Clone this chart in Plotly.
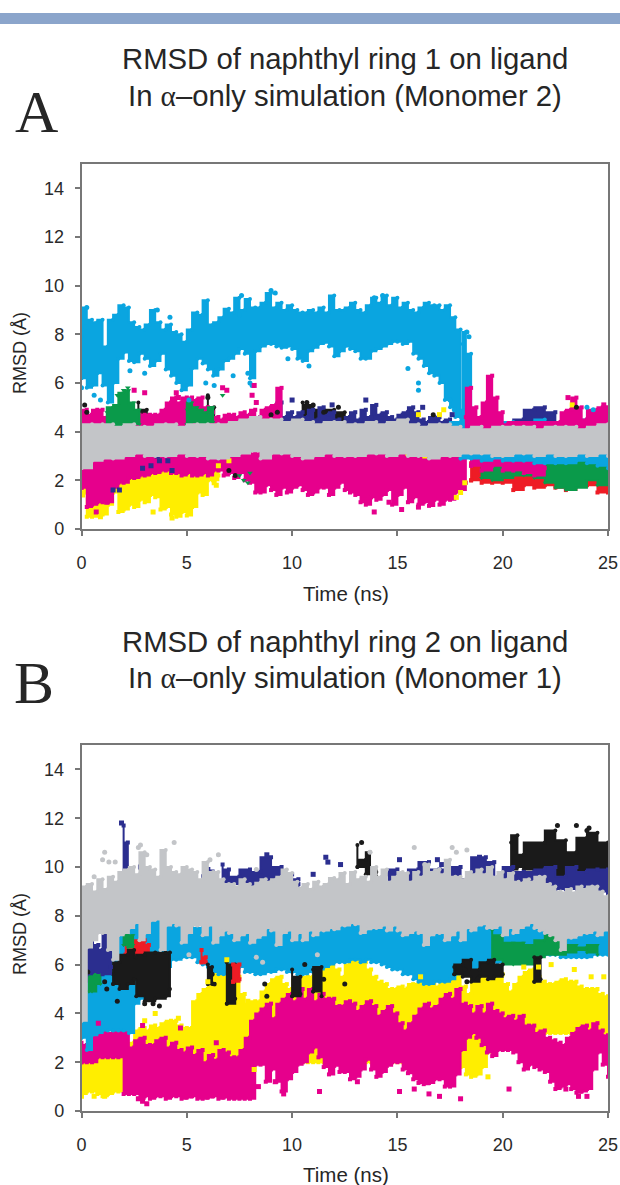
import plotly.graph_objects as go

# ---------- shared ----------
X_TICKS = [0, 5, 10, 15, 20, 25]
Y_TICKS = [0, 2, 4, 6, 8, 10, 12, 14]
CYAN, MAGENTA, GRAY = "#0aa5e0", "#e6008c", "#c3c5c8"
YELLOW, NAVY, BLACK, GREEN, RED = "#ffee00", "#2b2e8f", "#1a1a1a", "#0a9a4a", "#ee1c25"

T5 = [i * 0.5 for i in range(51)]
T25 = [i * 0.25 for i in range(101)]

# ---------- panel A envelopes ----------
A_CYAN_HI = [7.9,9.1,8.6,8.5,8.6,7.5,8.6,8.8,9.2,9.1,8.5,8.3,8.2,8.4,9.0,8.5,8.2,8.4,8.1,8.0,7.7,8.2,8.9,8.8,9.4,8.4,8.5,8.7,9.05,8.9,9.5,9.0,9.45,9.1,9.1,9.3,9.7,9.1,9.3,9.0,9.2,9.0,8.9,8.9,9.0,8.9,9.1,8.9,9.6,9.0,9.0,9.1,9.3,9.0,8.9,9.2,9.5,9.3,9.6,9.2,9.5,9.1,9.3,9.0,8.9,9.1,9.3,9.2,9.2,9.0,9.2,8.7,8.2]
A_CYAN_LO = [6.2,5.8,5.9,6.4,5.9,5.2,6.0,7.0,7.25,6.9,6.85,7.2,7.0,6.7,6.9,7.2,6.55,6.3,6.0,5.7,5.9,6.6,7.0,6.8,6.55,6.3,6.55,6.9,7.0,7.2,7.4,7.2,6.2,7.3,7.5,7.6,7.6,7.5,7.45,7.5,7.4,7.0,6.9,7.3,7.45,7.6,7.65,7.5,7.1,7.3,7.5,7.4,7.3,7.0,7.0,7.3,7.4,7.5,7.6,7.7,7.7,7.6,7.7,7.2,7.0,6.7,6.4,6.3,6.0,5.3,5.0,4.6,4.6]
A_CYAN_COL_T = [18.1,18.25,18.5]
A_CYAN_COL_HI = [7.6,8.1,7.2]
A_CYAN_COL_LO = [4.0,4.0,4.2]
A_GRAY_HI = [4.2,4.3,4.3,4.3,4.2,4.3,4.2,4.2,4.3,4.3,4.2,4.3,4.3,4.3,4.3,4.4,4.5,4.6,4.5,4.5,4.4,4.5,4.4,4.3,4.4,4.4,4.3,4.3,4.4,4.3,4.4,4.5,4.3,4.2,4.3,4.3,4.2,4.1,4.2,4.1,4.2,4.2,4.2,4.2,4.1,4.2,4.2,4.2,4.1,4.2,4.3]
A_GRAY_LO = [2.5,2.8,2.9,2.9,3.0,3.1,3.0,3.0,3.0,3.1,3.0,3.0,2.9,2.9,3.0,3.1,3.2,2.9,3.1,3.1,3.0,2.9,3.0,3.1,3.0,3.0,3.0,3.1,3.1,3.0,3.1,3.0,3.0,2.9,3.0,3.0,3.1,3.1,3.1,3.0,3.0,3.1,3.1,3.0,3.1,3.0,3.0,3.1,3.0,3.1,3.0]

A_MAG_LOW_LO = [1.7,0.9,1.0,1.1,1.1,1.1,1.7,1.9,1.9,2.1,2.1,2.2,2.2,2.3,2.3,2.4,2.4,2.3,2.3,2.2,2.3,2.2,2.2,2.3,2.2,2.4,2.4,2.2,2.3,2.1,2.3,2.0,1.9,1.5,1.5,1.8,1.6,1.4,1.7,1.5,1.7,1.8,1.6,1.4,1.5,1.7,1.7,1.4,1.7,1.9,1.6,1.5,1.4,1.1,1.0,1.3,1.2,1.4,1.6,1.0,1.4,1.7,1.1,1.3,1.0,1.1,0.95,1.2,1.0,1.2,1.2,1.5,1.6,1.9]
A_MAG_LOW_HI = [3.1] * len(A_MAG_LOW_LO)
A_MAG_UP_HI = [4.6,4.9,4.7,4.9,4.9,4.6,4.8,4.9,4.7,4.9,4.8,4.7,4.7,4.7,4.7,4.7,4.9,5.2,5.4,5.2,5.4,5.4,5.3,5.4,5.0,4.8,4.6,4.5,4.7,4.7,4.6,4.8,4.7,4.9,4.6,4.9,5.0,5.1,5.8]
A_MAG_UP_LO = [3.9] * len(A_MAG_UP_HI)
A_MAG_R_T = [18.25,18.5,18.75,19,19.25,19.5,19.75,20,20.25,22.75,23,23.25,23.5,23.75,24,24.5,24.75,25]
A_MAG_R_HI = [4.6,5.8,5.0,4.6,5.2,6.3,5.4,4.8,4.3,4.4,4.8,4.9,5.4,5.0,4.5,4.9,5.0,5.0]
A_MAG_R_LO = [4.0,4.0,4.0,4.0,4.0,4.0,4.0,4.0,4.0,4.0,4.0,4.0,4.0,4.0,4.0,4.1,4.1,4.1]
A_YELLOW_T = [0.1,0.25,0.5,0.75,1,1.25,1.5,1.75,2,2.25,2.5,2.75,3,3.25,3.5,3.75,4,4.25,4.5,4.75,5,5.25,5.5,5.75,6,6.25,6.5]
A_YELLOW_HI = [2.0,2.0,2.0,2.2,2.2,2.2,2.2,2.3,2.5,2.6,2.6,2.7,2.8,2.8,2.8,2.9,3.0,2.9,2.8,2.6,2.5,2.5,2.5,2.5,2.5,2.5,2.4]
A_YELLOW_LO = [1.5,0.5,0.5,0.6,0.6,1.0,1.5,0.7,0.8,1.0,0.9,1.2,1.1,1.4,1.3,0.8,0.9,0.6,0.5,0.7,0.55,0.9,1.5,1.4,2.0,2.0,2.2]
A_GREEN_T = [1.2,1.5,1.75,2,2.25,2.5,2.75,5,5.25,5.5,5.75,6,6.25]
A_GREEN_HI = [4.8,5.0,5.1,5.6,5.7,5.2,4.9,4.9,5.2,5.0,4.9,4.8,5.0]
A_GREEN_LO = [4.1,4.2,4.2,4.2,4.2,4.3,4.3,4.3,4.4,4.3,4.3,4.4,4.4]
A_NAVY_T = [8,8.5,9,9.25,9.5,9.75,10,10.25,10.5,10.75,11,11.25,11.5,11.75,12,12.25,12.5,12.75,13,13.25,13.5,13.75,14,14.25,14.5,14.75,15,15.25,15.5,15.75,16,16.25,16.5,16.75,17,17.25,17.5]
A_NAVY_HI = [4.6,4.6,4.5,4.7,5.2,4.6,4.8,4.6,4.8,4.6,4.9,4.5,5.0,4.7,4.8,4.5,4.4,4.6,4.8,4.5,4.9,4.6,5.1,4.7,4.8,4.6,4.5,4.7,4.8,5.0,4.8,4.5,4.4,4.6,4.6,4.4,4.5]
A_NAVY_LO = [4.0] * len(A_NAVY_HI)
A_NAVY2_T = [20.5,21,21.5,22,22.5]
A_NAVY2_HI = [4.1,4.5,4.9,5.0,4.8]
A_NAVY2_LO = [4.0,4.0,4.0,4.0,4.0]
A_BLACK_T = [2.7,3.1,6.0,6.3,10.5,11,11.5,12,12.5]
A_BLACK_HI = [5.2,4.9,5.5,5.0,5.2,5.1,4.9,4.9,4.8]
A_BLACK_LO = [4.3,4.3,4.5,4.5,4.4,4.4,4.3,4.3,4.3]
A_RED_HI = [2.7,2.9,2.9,2.9,2.9,2.9,2.8,2.8,2.8,2.8,2.8,2.8,2.8,2.8]
A_RED_LO = [2.0,1.9,1.9,1.9,1.6,1.8,1.7,1.8,1.7,1.6,1.8,1.8,1.5,1.5]
A_GREEN2_HI = [2.9,2.9,2.8,2.9,2.9,2.9,2.8,2.9,2.9,2.9,2.9,2.9,2.9]
A_GREEN2_LO = [2.1,2.0,2.1,2.2,2.2,2.1,1.9,1.7,1.6,1.7,2.0,1.8,2.1]
A_MAG_R2_T = [18.5,19,19.5,20,20.5,21,21.5,22]
A_MAG_R2_HI = [3.1,3.1,3.1,3.1,3.1,3.1,3.1,3.1]
A_MAG_R2_LO = [2.6,2.4,2.6,2.4,2.4,2.3,2.2,2.5]
A_CYAN2_HI = [4.2,4.4,4.9,4.4,4.5,4.3,4.4,4.3,4.3,4.5,4.3,4.3,4.4,4.5,4.8,4.6]
A_CYAN2_LO = [4.0] * len(A_CYAN2_HI)
A_CYAN3_HI = [3.2,3.2,3.2,3.2,3.2,3.2,3.2,3.2,3.2,3.2,3.2,3.2,3.2,3.2,3.2]
A_CYAN3_LO = [2.9,2.9,2.8,2.9,2.8,2.8,2.8,2.7,2.7,2.7,2.7,2.8,2.7,2.6,2.5]

A_DOTS = {
    CYAN: ([0.25,0.2,0.0,0.6,0.9,2.3,3,3.6,4.2,5.1,5.9,6.3,7.2,7.5,7.6,7.9,8,8.1,9,9.2,9.8,10.8,13.9,14.3,15.5,16,16,18.3,18.4,17.7,17.5,24,24.3],
           [9.1,8.3,5.8,5.5,5.3,6.5,6.4,9.0,8.7,5.3,6.0,5.9,6.3,8.8,9.6,6.4,6.0,5.9,9.8,9.7,7.0,6.7,9.5,9.6,6.6,6.0,5.7,8.1,7.9,4.9,5.3,5.0,4.9]),
    MAGENTA: ([2.5,3.0,4.5,4.6,6.7,6.9,8.1,8.2,8.3,13.9,14.6,24.8,23.1,0.7,1.2,16.0,13.4,15.2],
              [5.7,5.6,5.6,5.4,5.8,5.7,5.5,5.9,5.2,0.7,1.1,5.1,5.4,0.7,1.1,0.9,1.2,0.8]),
    YELLOW: ([0.05,0.9,3.4,4.3,5.9,6.3,6.4,6.5,15.5,16.3,16.8,17.8,18.0,18.2,7.0,17.2,16.0,17.0,23.3],
             [1.4,0.5,0.7,0.45,1.6,1.9,1.8,2.6,3.1,3.0,3.1,1.3,1.5,1.9,2.8,4.9,4.7,4.7,5.1]),
    NAVY: ([3.6,3.7,3.3,2.9,4.1,4.3,1.5,10.0,1.8,13.5,16.2,17.6,22,11.9],
           [3.0,2.8,2.6,2.5,2.8,2.4,1.6,5.3,1.6,5.3,5.0,4.7,4.7,5.1]),
    BLACK: ([0.15,0.25,6.0,9.3,9.0,10.7,11.0,11.5,12.2,16.7,23.5,7.0,7.3],
            [5.1,4.8,5.4,4.8,4.7,5.2,5.1,4.8,5.0,4.7,5.0,2.4,2.2]),
    GREEN: ([1.7,2,2.2,7.5,7.7,7.9,8.0,6.7,20.8],
            [5.5,5.7,5.8,2.2,2.0,1.9,2.3,5.5,2.3]),
}

# ---------- panel B envelopes ----------
B_GRAY_HI = [8.6,9.2,9.3,9.0,9.5,9.1,9.6,9.4,9.8,9.9,10.0,9.7,10.6,10.0,9.9,9.6,10.7,10.0,9.8,9.7,10.0,9.9,9.8,9.5,10.2,9.8,9.8,9.5,9.3,9.3,9.2,9.5,9.3,9.2,9.35,9.5,9.4,9.5,9.6,9.9,9.75,9.4,9.15,9.3,9.1,9.4,9.2,9.3,9.55,9.5,9.75,9.3,9.8,9.5,9.6,9.4,10.0,9.6,9.9,9.4,9.6,9.8,9.75,9.4,9.8,9.6,10.1,9.8,9.9,9.7,10.3,9.6,9.6,9.5,9.8,9.7,9.9,9.7,10.0,9.6,9.8,9.5,9.75,9.4,9.35,9.5,9.4,9.6,9.6,9.3,9.2,9.0,8.95,9.1,8.95,9.2,9.1,9.2,9.2,9.0,8.8]
B_GRAY_LO = [3.7,6.7,7.0,7.3,7.3,6.6,6.2,7.2,7.3,7.5,7.7,7.0,7.3,7.8,7.85,6.6,7.6,7.7,7.6,6.9,7.3,7.6,7.6,7.2,7.6,6.9,7.2,7.4,7.3,7.0,7.2,7.3,6.9,7.1,7.2,7.5,7.4,6.8,7.3,7.4,7.0,7.3,7.0,7.4,7.2,7.4,7.4,7.5,7.45,7.6,7.6,7.7,7.65,7.3,7.45,7.5,7.5,7.6,7.4,7.6,7.4,7.2,7.3,7.4,7.3,6.8,7.2,7.3,7.3,7.0,7.2,7.4,7.0,7.5,7.4,7.6,7.65,7.5,7.5,7.6,7.2,7.5,7.3,7.5,7.6,7.7,7.5,7.4,7.3,7.2,7.0,6.6,7.1,7.1,7.2,7.3,7.3,7.4,7.2,7.4,7.5]
B_CYAN_LO = [3.0,2.5,3.1,3.2,3.3,3.3,3.3,3.3,3.3,3.2,4.4,4.6,5.0,5.0,5.2,5.2,5.9,6.2,6.2,6.3,6.3,6.3,6.1,6.0,5.9,5.7,5.6,5.6,5.5,5.7,5.9,5.7,5.7,5.6,5.6,5.7,5.7,5.8,5.8,5.7,5.7,5.6,5.6,5.7,5.7,5.8,5.9,6.0,6.1,6.1,6.1,6.2,6.2,6.1,6.2,6.1,6.1,6.0,5.9,5.8,5.8,5.6,5.6,5.4,5.3,5.2,5.2,5.3,5.3,5.3,5.4,5.6,5.7,5.7,5.8,5.9,5.9,6.0,6.1,6.1,6.1,6.2,6.2,6.3,6.4,6.4,6.4,6.4,6.4,6.4,6.4,6.3,6.3,6.3,6.3,6.3,6.3,6.4,6.4,6.4,6.4]
B_CYAN_HI = [6.2,6.1,6.0,6.0,6.0,5.9,5.8,6.5,7.3,7.8,8.5,8.3,8.2,8.1,8.1,8.0,8.0,7.9,7.9,7.7,7.6,7.6,7.5,7.5] + [7.7] * 77
B_YELLOW_HI = [2.3,2.3,2.3,2.3,2.3,2.4,2.5,2.2,2.2,2.7,2.8,3.3,3.4,3.3,3.5,3.4,3.6,3.7,3.7,3.5,3.4,3.4,4.5,4.8,5.0,5.4,5.8,6.0,6.2,5.9,5.5,4.8,4.4,4.5,4.5,4.9,5.2,5.4,5.5,5.2,5.0,5.4,5.7,5.5,5.5,5.8,5.9,6.1,6.3,5.8,5.5,6.0,6.4,6.2,6.1,5.8,5.5,5.3,5.2,5.0,5.0,5.1,5.0,5.2,5.2,5.3,5.4,5.2,5.1,5.4,5.4,5.5,5.6,5.1,4.8,5.5,6.0,5.6,5.3,5.5,5.6,5.2,4.9,5.2,5.5,5.7,5.8,5.5,5.3,5.2,5.2,5.3,5.4,5.3,5.3,5.1,5.0,5.0,5.0,4.8,4.7]
B_YELLOW_LO = [0.7,0.8,0.8,0.7,0.6,0.7,0.8,0.8] + [2.0] * 64 + [1.8,1.5,1.4,1.5,1.8,2.4,2.6] + [3.2] * 22
B_MAG_HI = [2.8,2.7,2.6,3.4,3.2,3.4,3.2,3.3,3.4,3.3,2.6,2.9,3.0,2.7,2.7,2.9,3.0,2.6,2.8,2.5,2.4,2.6,2.3,2.5,2.0,2.3,2.1,2.5,2.4,2.2,2.2,2.5,3.0,3.7,4.0,4.2,4.4,3.8,4.4,4.6,4.8,4.5,5.0,4.6,5.0,4.5,4.8,4.6,4.6,4.3,4.3,4.5,4.4,4.1,4.3,4.5,4.3,3.9,4.1,4.3,4.0,3.6,3.3,3.6,3.9,4.2,4.4,4.2,4.3,4.6,4.8,4.6,5.0,4.4,4.3,4.0,4.3,4.0,4.4,4.1,4.0,3.8,3.9,3.7,3.9,3.5,3.5,3.2,3.3,3.0,2.9,2.8,2.7,3.0,3.2,3.4,3.5,3.3,3.6,3.3,3.1]
B_MAG_LO = [2.0,2.0,2.0,2.2,2.2,2.2,2.2,2.2,0.7,0.7,0.7,0.5,0.6,0.5,0.6,0.6,0.5,0.6,0.6,0.5,0.55,0.6,0.5,0.5,0.55,0.6,0.5,0.55,0.5,0.5,0.5,0.5,0.5,1.9,1.9,1.2,1.7,1.2,0.8,1.3,1.6,1.9,2.0,2.4,2.6,2.2,1.8,1.5,1.85,1.6,1.6,1.3,1.4,1.7,2.1,1.7,1.4,1.6,1.85,2.0,2.0,1.7,1.55,1.3,1.15,1.1,1.15,1.3,1.3,1.0,1.0,1.5,2.5,3.0,3.2,3.0,2.7,2.4,2.25,2.5,2.5,2.5,2.4,2.0,1.7,1.9,1.8,1.7,1.6,1.2,0.9,1.0,1.1,0.9,0.75,0.8,0.9,1.7,2.4,1.9,1.4]
B_GREEN_T = [0.35,0.5,0.7,0.9,2.0,2.2,2.45,19.5,20,20.5,21,21.5,22,22.5,23,23.5,24,24.5]
B_GREEN_HI = [6.0,6.4,6.0,5.7,7.3,7.5,7.2,7.4,7.2,6.9,6.9,6.8,7.0,7.2,7.2,6.8,6.7,6.8]
B_GREEN_LO = [4.9,4.9,5.2,5.2,6.8,6.7,6.8,6.2,6.0,6.0,6.0,6.3,6.4,6.4,6.5,6.6,6.5,6.4]
B_RED_T = [2.1,2.5,3,3.2,5.7,5.9,7.2,7.5]
B_RED_HI = [6.9,6.8,7.0,6.8,6.6,6.3,6.0,6.0]
B_RED_LO = [6.4,6.3,6.4,6.4,6.1,6.1,5.3,5.4]
B_BLACK_T = [1.5,1.8,2.2,2.5,2.6,3.0,3.5,4.0,4.2]
B_BLACK_HI = [5.6,6.1,6.4,6.6,6.3,6.4,6.5,6.5,6.5]
B_BLACK_LO = [5.2,5.0,5.2,5.4,4.7,4.5,4.6,4.7,5.0]
B_BLACK2_T = [20.4,20.7,21.0,22.0,22.5,23.0,23.5,24.0,24.5,25]
B_BLACK2_HI = [11.0,11.3,10.5,11.0,11.5,11.1,10.6,11.2,11.4,11.0]
B_BLACK2_LO = [9.9,10.0,9.9,9.5,9.5,9.8,9.8,9.8,9.8,9.8]
B_BLACK3_T = [6.0,6.2,6.9,7.3,10.0,10.4,11.0,11.4,13.1,13.5,13.7,14.0]
B_BLACK3_HI = [6.0,5.9,6.1,6.0,5.8,5.5,5.8,5.9,10.9,10.3,10.6,9.8]
B_BLACK3_LO = [5.2,5.2,4.4,4.6,4.7,4.8,4.9,4.7,10.0,9.7,9.9,9.6]
B_BLACK4_T = [17.7,18.1,18.5,18.9,19.3,19.6,20.0]
B_BLACK4_HI = [5.9,6.0,6.2,5.8,6.1,6.2,6.0]
B_BLACK4_LO = [5.6,5.5,5.3,5.5,5.4,5.5,5.6]
B_BLACK5_T = [21.5,21.8]
B_BLACK5_HI = [6.3,6.3]
B_BLACK5_LO = [5.3,5.4]
B_NAVY_T = [0,0.25,0.5,0.8,1.0,1.4,2.0,2.2,2.4,6.7,7,7.5,8,8.5,9,9.5,10,10.3]
B_NAVY_HI = [7.5,7.0,6.9,6.8,6.6,7.7,11.7,11.0,9.8,10.1,9.9,9.6,9.9,9.8,10.4,10.0,9.7,9.5]
B_NAVY_LO = [5.3,5.6,5.7,5.7,5.6,5.9,9.5,9.5,9.2,9.3,9.3,9.1,9.2,9.3,9.2,9.4,9.2,9.3]
B_NAVY2_T = [14.6,15,15.5,16,16.5,17,17.5,18,18.5,19.2,19.6,20,20.5,21,21.5,22,22.5,23,23.5,24,24.5,25]
B_NAVY2_HI = [9.7,9.9,9.6,9.9,10.2,9.9,9.9,10.0,9.5,10.4,10.2,9.3,10.0,9.8,9.8,9.9,10.0,9.6,10.0,9.8,9.9,9.9]
B_NAVY2_LO = [9.3,9.1,9.1,9.1,9.1,9.3,9.3,9.0,9.2,9.7,9.5,9.1,9.2,9.0,9.1,9.0,9.1,9.1,8.9,8.9,9.0,8.9]

B_DOTS = {
    GRAY: ([0.6,1.0,1.1,1.3,1.6,2.7,2.8,3.1,4.4,6.1,6.5,8.3,13.7,15.8,16.3,17.6,17.8,18.3,8.3,8.6,5.1,11.2],
           [9.6,10.3,10.6,10.2,10.2,10.8,10.9,10.5,11.0,10.3,10.5,9.9,10.6,10.8,10.1,10.8,10.6,10.7,6.3,6.1,6.4,6.4]),
    NAVY: ([1.9,2.6,2.8,4.1,4.4,4.6,5.0,5.3,5.8,6.0,6.2,11.0,15.1,16.9,17.1,18.9,7.5,7.9,8.8,11.6,11.7,12.3],
           [11.8,9.2,10.0,8.7,8.6,8.4,9.6,9.2,9.6,9.9,9.8,9.7,10.3,10.3,10.1,10.4,8.9,8.9,10.5,10.4,10.2,10.1]),
    BLACK: ([0.15,0.3,1.1,1.2,1.7,3.0,3.4,3.7,8.7,8.8,6.2,6.3,10.6,11.5,12.5,13.3,18.2,18.3,18.8,23.5,22.6,24,24.1],
            [6.1,5.7,5.3,5.0,4.5,4.4,4.4,4.3,5.2,4.7,5.6,5.2,6.0,5.4,5.2,11.0,5.8,5.3,5.4,11.7,11.7,11.5,11.6]),
    YELLOW: ([0.0,0.6,1.1,3.0,3.5,4.6,6.0,6.2,6.4,7.6,7.9,8.2,21.7,22.3,23.4,24.2,24.8,16.1,15.5,19.3,6.9,21],
             [0.6,0.6,0.6,3.7,4.0,3.8,5.3,5.0,5.4,4.3,4.5,1.7,5.9,6.0,5.8,5.5,5.5,5.5,5.0,1.4,6.2,5.9]),
    MAGENTA: ([3.1,2.9,2.7,8.4,9.2,9.6,11.3,13.1,15.1,15.8,16.5,17.0,18.0,20.3,23.0,23.6,24.0,2.9,4.7,6.4,0.8],
              [0.3,0.4,0.5,1.0,1.2,0.7,0.8,1.2,0.8,0.9,0.7,0.6,0.5,0.9,0.9,0.6,0.6,3.5,3.4,2.8,3.6]),
}

# ---------- drawing ----------
fig = go.Figure()
SQUARE = {MAGENTA: "square", YELLOW: "square", NAVY: "square", RED: "square", GREEN: "triangle-down"}

def band(axis, color, t, lo, hi):
    t = list(t)[:len(lo)]
    xs = t + t[::-1] + [t[0]]
    ys = list(lo) + list(hi)[::-1] + [lo[0]]
    fig.add_trace(go.Scatter(
        x=xs, y=ys, xaxis="x" + axis, yaxis="y" + axis, mode="lines+markers",
        fill="toself", fillcolor=color, line=dict(color=color, width=2, shape="hv"),
        marker=dict(color=color, size=4, symbol=SQUARE.get(color, "circle")), hoverinfo="skip"))

def dots(axis, dot_map):
    for color, (x, y) in dot_map.items():
        fig.add_trace(go.Scatter(
            x=x, y=y, xaxis="x" + axis, yaxis="y" + axis, mode="markers",
            marker=dict(color=color, size=5, symbol=SQUARE.get(color, "circle")),
            hoverinfo="skip"))

band("", YELLOW, A_YELLOW_T, A_YELLOW_LO, A_YELLOW_HI)
band("", RED, T5[37:], A_RED_LO, A_RED_HI)
band("", GREEN, T5[38:], A_GREEN2_LO, A_GREEN2_HI)
band("", BLACK, A_BLACK_T[:2], A_BLACK_LO[:2], A_BLACK_HI[:2])
band("", BLACK, A_BLACK_T[2:4], A_BLACK_LO[2:4], A_BLACK_HI[2:4])
band("", BLACK, A_BLACK_T[4:], A_BLACK_LO[4:], A_BLACK_HI[4:])
band("", NAVY, A_NAVY_T, A_NAVY_LO, A_NAVY_HI)
band("", NAVY, A_NAVY2_T, A_NAVY2_LO, A_NAVY2_HI)
band("", MAGENTA, T25, A_MAG_LOW_LO, A_MAG_LOW_HI)
band("", MAGENTA, T25, A_MAG_UP_LO, A_MAG_UP_HI)
band("", GREEN, A_GREEN_T[:7], A_GREEN_LO[:7], A_GREEN_HI[:7])
band("", GREEN, A_GREEN_T[7:], A_GREEN_LO[7:], A_GREEN_HI[7:])
band("", MAGENTA, A_MAG_R2_T, A_MAG_R2_LO, A_MAG_R2_HI)
band("", CYAN, T25, A_CYAN_LO, A_CYAN_HI)
band("", CYAN, A_CYAN_COL_T, A_CYAN_COL_LO, A_CYAN_COL_HI)
band("", CYAN, T5[35:], A_CYAN2_LO, A_CYAN2_HI)
band("", CYAN, T5[36:], A_CYAN3_LO, A_CYAN3_HI)
band("", MAGENTA, A_MAG_R_T, A_MAG_R_LO, A_MAG_R_HI)
dots("", A_DOTS)
band("", GRAY, T5, A_GRAY_LO, A_GRAY_HI)

band("2", YELLOW, T25, B_YELLOW_LO, B_YELLOW_HI)
band("2", MAGENTA, T25, B_MAG_LO, B_MAG_HI)
band("2", CYAN, T25, B_CYAN_LO, B_CYAN_HI)
band("2", RED, B_RED_T[:4], B_RED_LO[:4], B_RED_HI[:4])
band("2", RED, B_RED_T[4:6], B_RED_LO[4:6], B_RED_HI[4:6])
band("2", GREEN, B_GREEN_T[:4], B_GREEN_LO[:4], B_GREEN_HI[:4])
band("2", GREEN, B_GREEN_T[4:7], B_GREEN_LO[4:7], B_GREEN_HI[4:7])
band("2", GREEN, B_GREEN_T[7:], B_GREEN_LO[7:], B_GREEN_HI[7:])
band("2", BLACK, B_BLACK_T, B_BLACK_LO, B_BLACK_HI)
band("2", BLACK, B_BLACK3_T[:2], B_BLACK3_LO[:2], B_BLACK3_HI[:2])
band("2", BLACK, B_BLACK3_T[2:4], B_BLACK3_LO[2:4], B_BLACK3_HI[2:4])
band("2", BLACK, B_BLACK3_T[4:6], B_BLACK3_LO[4:6], B_BLACK3_HI[4:6])
band("2", BLACK, B_BLACK3_T[6:8], B_BLACK3_LO[6:8], B_BLACK3_HI[6:8])
band("2", BLACK, B_BLACK3_T[8:], B_BLACK3_LO[8:], B_BLACK3_HI[8:])
band("2", BLACK, B_BLACK4_T, B_BLACK4_LO, B_BLACK4_HI)
band("2", BLACK, B_BLACK5_T, B_BLACK5_LO, B_BLACK5_HI)
band("2", BLACK, B_BLACK2_T, B_BLACK2_LO, B_BLACK2_HI)
band("2", RED, B_RED_T[6:], B_RED_LO[6:], B_RED_HI[6:])
band("2", NAVY, B_NAVY_T[:6], B_NAVY_LO[:6], B_NAVY_HI[:6])
band("2", NAVY, B_NAVY_T[6:9], B_NAVY_LO[6:9], B_NAVY_HI[6:9])
band("2", NAVY, B_NAVY_T[9:], B_NAVY_LO[9:], B_NAVY_HI[9:])
band("2", NAVY, B_NAVY2_T, B_NAVY2_LO, B_NAVY2_HI)
dots("2", {k: v for k, v in B_DOTS.items() if k != GRAY})
band("2", GRAY, T25, B_GRAY_LO, B_GRAY_HI)
dots("2", {GRAY: B_DOTS[GRAY]})

W, H = 620, 1185
axis_style = dict(
    showline=True, linecolor="#777777", linewidth=1.5, mirror=True, showgrid=False,
    zeroline=False, ticks="outside", ticklen=5, tickcolor="#777777", tickwidth=1.5,
    automargin=False, ticklabelstandoff=7,
    tickfont=dict(family="Liberation Sans", size=18, color="#2a2a2a"),
)

def xaxis(anchor):
    return dict(axis_style, domain=[81.5 / W, 608 / W], range=[0, 25], tickvals=X_TICKS,
                anchor=anchor, ticklabelstandoff=12)

def yaxis(anchor, top, bottom):
    return dict(axis_style, domain=[1 - bottom / H, 1 - top / H], range=[0, 15], tickvals=Y_TICKS,
                anchor=anchor)

def label(x, y, text, size, family="Liberation Sans", angle=0):
    return dict(x=x / W, y=1 - y / H, xref="paper", yref="paper", text=text, showarrow=False,
                xanchor="center", yanchor="middle", textangle=angle,
                font=dict(family=family, size=size, color="#262626"))

ALPHA = '<span style="font-family:Liberation Serif">α</span>'
fig.update_layout(
    width=W, height=H, margin=dict(l=0, r=0, t=0, b=0), showlegend=False,
    paper_bgcolor="white", plot_bgcolor="white",
    xaxis=xaxis("y"), yaxis=yaxis("x", 164, 529),
    xaxis2=xaxis("y2"), yaxis2=yaxis("x2", 745, 1111),
    shapes=[dict(type="rect", xref="paper", yref="paper", x0=0, x1=1,
                 y0=1 - 24 / H, y1=1 - 13 / H, fillcolor="#8ba5cb", line_width=0, layer="below")],
    annotations=[
        label(345, 59, "RMSD of naphthyl ring 1 on ligand", 29.3),
        label(345, 95, f"In {ALPHA}–only simulation (Monomer 2)", 29.3),
        label(36, 112, "A", 60, "Liberation Serif"),
        label(345, 641, "RMSD of naphthyl ring 2 on ligand", 29.3),
        label(345, 677, f"In {ALPHA}–only simulation (Monomer 1)", 29.3),
        label(34, 683, "B", 60, "Liberation Serif"),
        label(346, 593, "Time (ns)", 20.5),
        label(346, 1174, "Time (ns)", 20.5),
        label(20, 353, "RMSD (Å)", 18, angle=-90),
        label(20, 934, "RMSD (Å)", 18, angle=-90),
    ],
)
fig.write_html("out.html", config={"displayModeBar": False},
               post_script="document.body.style.margin='0';document.documentElement.style.overflow='hidden';")
